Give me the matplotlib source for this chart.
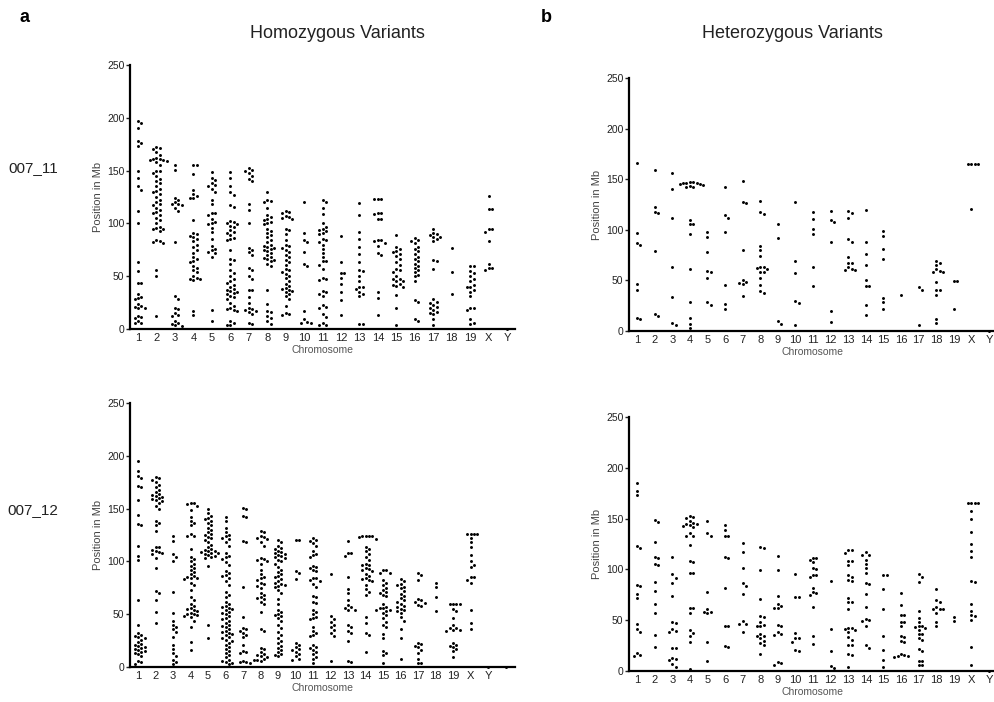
import numpy as np
import matplotlib
matplotlib.use('Agg')
import matplotlib.pyplot as plt

plt.rcParams['font.family'] = ['Liberation Sans', 'DejaVu Sans']

chroms = ['1', '2', '3', '4', '5', '6', '7', '8', '9', '10', '11', '12', '13',
          '14', '15', '16', '17', '18', '19', 'X', 'Y']

# Homozygous variants, sample 007_11 (Mb, one list per chromosome)
hom_11 = [
    [197, 195, 190, 178, 176, 173, 150, 143, 135, 132, 112, 100, 63, 55, 44, 44, 33, 30, 29, 28, 24, 22, 21, 20, 20, 12, 11, 10, 8, 6, 6],
    [172, 171, 170, 168, 165, 162, 161, 161, 160, 160, 159, 158, 155, 150, 150, 148, 145, 142, 140, 138, 135, 133, 131, 130, 128, 125, 122, 120, 118, 117, 115, 113, 111, 110, 108, 105, 103, 100, 97, 96, 95, 95, 93, 84, 83, 82, 81, 56, 50, 12],
    [155, 151, 124, 122, 120, 118, 118, 117, 115, 112, 82, 31, 28, 20, 19, 15, 13, 12, 8, 6, 5, 4, 3],
    [155, 155, 147, 132, 128, 126, 124, 124, 103, 91, 90, 88, 87, 85, 83, 80, 78, 75, 72, 68, 66, 64, 63, 60, 58, 56, 54, 50, 48, 47, 47, 46, 17, 13],
    [149, 143, 141, 138, 136, 135, 133, 130, 122, 118, 110, 110, 108, 104, 101, 100, 99, 96, 92, 85, 79, 76, 75, 73, 72, 68, 18, 8],
    [149, 143, 135, 130, 127, 117, 116, 102, 101, 100, 99, 98, 97, 94, 92, 91, 89, 86, 85, 84, 75, 66, 65, 62, 56, 53, 50, 47, 45, 44, 42, 40, 38, 37, 36, 35, 34, 33, 31, 30, 28, 25, 22, 20, 19, 18, 17, 8, 6, 4, 4],
    [152, 151, 150, 148, 145, 142, 140, 118, 113, 100, 77, 75, 73, 70, 58, 56, 50, 47, 37, 37, 30, 25, 20, 19, 18, 17, 16, 14, 6, 5],
    [130, 122, 121, 120, 115, 108, 106, 104, 103, 101, 100, 99, 95, 93, 91, 89, 87, 84, 82, 80, 79, 78, 77, 76, 75, 74, 72, 70, 68, 67, 66, 65, 64, 62, 60, 37, 24, 17, 16, 12, 10, 8, 5],
    [112, 111, 110, 107, 106, 105, 104, 95, 94, 90, 84, 80, 79, 77, 75, 73, 70, 68, 65, 63, 61, 57, 56, 54, 52, 50, 48, 45, 43, 41, 39, 38, 37, 36, 35, 33, 31, 28, 22, 15, 14, 13],
    [120, 91, 84, 82, 73, 62, 60, 17, 9, 7, 6, 6],
    [122, 120, 115, 109, 100, 97, 95, 94, 93, 91, 90, 85, 84, 82, 80, 76, 72, 68, 64, 64, 61, 57, 48, 47, 46, 36, 35, 33, 31, 23, 21, 20, 14, 11, 6, 4, 4],
    [88, 63, 53, 53, 48, 43, 35, 27, 13],
    [119, 108, 92, 85, 78, 71, 63, 56, 55, 50, 45, 40, 40, 38, 35, 33, 31, 5, 5],
    [123, 123, 123, 110, 110, 109, 104, 104, 84, 84, 83, 81, 79, 72, 70, 35, 29, 13],
    [89, 78, 76, 74, 73, 71, 69, 66, 63, 61, 57, 56, 54, 50, 47, 47, 45, 45, 43, 42, 41, 40, 32, 20, 4],
    [86, 84, 83, 81, 78, 76, 74, 71, 68, 66, 64, 62, 60, 58, 56, 54, 51, 50, 45, 27, 26, 9, 8],
    [95, 91, 90, 89, 87, 87, 85, 83, 65, 64, 57, 28, 26, 25, 23, 21, 20, 18, 16, 15, 14, 9, 4],
    [77, 54, 33],
    [60, 60, 55, 53, 50, 47, 45, 42, 40, 40, 37, 35, 31, 20, 20, 18, 9, 6, 5],
    [126, 114, 114, 95, 95, 92, 83, 62, 58, 58, 56],
    [0],
]

# Homozygous variants, sample 007_12 (last entry is the unlabelled slot after Y)
hom_12 = [
    [195, 186, 181, 179, 171, 170, 158, 144, 135, 134, 115, 105, 101, 63, 40, 32, 30, 29, 28, 27, 26, 24, 22, 21, 20, 19, 18, 17, 16, 15, 14, 13, 12, 10, 6, 5, 3],
    [180, 179, 177, 175, 172, 170, 168, 166, 164, 163, 162, 161, 160, 159, 158, 157, 155, 152, 150, 138, 136, 134, 129, 114, 114, 111, 110, 109, 108, 107, 103, 94, 72, 70, 63, 52, 42],
    [124, 119, 107, 104, 100, 71, 51, 44, 40, 38, 36, 33, 28, 21, 17, 13, 10, 7, 5, 3],
    [155, 155, 154, 152, 149, 142, 138, 136, 134, 126, 124, 124, 112, 104, 102, 100, 98, 96, 94, 92, 90, 88, 86, 85, 84, 84, 83, 80, 78, 73, 66, 63, 60, 58, 56, 55, 54, 53, 51, 50, 50, 49, 48, 47, 44, 38, 24, 16],
    [150, 146, 143, 141, 140, 138, 136, 134, 132, 130, 128, 126, 125, 123, 122, 120, 118, 116, 114, 112, 111, 110, 110, 109, 108, 108, 107, 106, 105, 104, 103, 96, 40, 27],
    [142, 138, 132, 128, 125, 124, 122, 121, 118, 115, 108, 105, 104, 102, 99, 97, 91, 89, 87, 86, 84, 81, 78, 71, 68, 66, 62, 60, 58, 57, 56, 55, 54, 52, 51, 50, 48, 46, 45, 44, 42, 40, 39, 38, 36, 34, 33, 32, 31, 30, 28, 27, 26, 25, 23, 21, 19, 17, 15, 13, 11, 9, 7, 6, 5, 4, 3],
    [151, 150, 143, 142, 119, 118, 76, 47, 37, 36, 34, 32, 30, 28, 21, 15, 14, 13, 6, 5, 5, 4],
    [129, 128, 124, 123, 122, 121, 118, 115, 103, 102, 101, 100, 98, 92, 88, 85, 84, 82, 80, 79, 77, 75, 70, 68, 66, 65, 64, 62, 60, 52, 36, 34, 18, 17, 14, 12, 11, 10, 9, 8, 7, 7, 6],
    [120, 118, 115, 113, 112, 110, 109, 108, 107, 106, 105, 104, 103, 101, 100, 98, 95, 92, 90, 88, 86, 85, 83, 81, 80, 79, 78, 77, 76, 73, 70, 64, 60, 54, 52, 50, 49, 48, 46, 44, 40, 37, 33, 30, 27, 25, 23, 20, 18, 16, 14, 12, 11, 10],
    [120, 120, 91, 89, 83, 23, 21, 19, 17, 16, 14, 12, 10, 8, 7],
    [122, 120, 119, 117, 115, 110, 107, 106, 104, 96, 95, 94, 92, 91, 84, 84, 82, 81, 79, 76, 67, 66, 62, 61, 54, 52, 50, 47, 46, 45, 38, 34, 32, 30, 29, 21, 19, 18, 16, 14, 12, 9, 8, 4],
    [88, 48, 45, 43, 40, 38, 35, 32, 29, 6],
    [119, 108, 108, 105, 85, 74, 70, 63, 59, 57, 56, 54, 54, 40, 38, 34, 32, 25, 6, 5],
    [124, 124, 124, 124, 123, 121, 114, 112, 110, 107, 104, 101, 98, 97, 97, 94, 93, 92, 91, 88, 86, 84, 83, 82, 81, 78, 74, 71, 68, 47, 42, 32, 30, 14],
    [92, 92, 89, 89, 82, 80, 78, 75, 73, 71, 70, 68, 67, 60, 57, 56, 56, 54, 54, 53, 51, 49, 46, 43, 40, 38, 31, 27, 15, 13, 11, 4],
    [83, 81, 79, 78, 76, 75, 72, 69, 67, 65, 63, 62, 60, 58, 57, 55, 54, 53, 51, 47, 44, 36, 27, 8],
    [89, 87, 82, 64, 63, 62, 61, 59, 58, 23, 22, 20, 19, 16, 13, 8, 4, 4],
    [80, 76, 66, 53],
    [60, 60, 60, 60, 55, 53, 46, 40, 37, 37, 35, 35, 34, 23, 21, 20, 19, 17, 15, 9],
    [126, 126, 126, 126, 122, 118, 114, 106, 100, 97, 95, 85, 85, 82, 80, 54, 42, 36],
    [0],
    [0],
]

# Heterozygous variants, sample 007_11
het_11 = [
    [166, 97, 87, 85, 46, 41, 13, 12],
    [159, 123, 118, 117, 79, 17, 15],
    [156, 140, 112, 63, 34, 8, 6],
    [147, 147, 146, 146, 146, 145, 145, 144, 143, 142, 142, 110, 106, 106, 96, 61, 29, 13, 7, 3],
    [98, 93, 78, 59, 58, 52, 29, 26],
    [142, 115, 112, 98, 45, 27, 22],
    [148, 127, 126, 80, 50, 48, 47, 46, 35],
    [128, 118, 116, 84, 80, 74, 63, 63, 62, 61, 58, 58, 52, 45, 40, 38],
    [106, 92, 10, 7],
    [127, 69, 57, 30, 28, 6],
    [118, 111, 101, 96, 63, 44],
    [119, 110, 108, 88, 20, 9],
    [119, 117, 112, 91, 88, 73, 67, 67, 63, 61, 60, 60],
    [120, 88, 76, 65, 50, 44, 44, 26, 16],
    [99, 94, 81, 71, 33, 29, 22],
    [36],
    [43, 41, 6],
    [69, 67, 65, 61, 59, 58, 58, 48, 41, 41, 36, 12, 8],
    [49, 49, 22],
    [165, 165, 165, 165, 121],
    [0],
]

# Heterozygous variants, sample 007_12
het_12 = [
    [185, 177, 173, 123, 121, 85, 84, 76, 72, 46, 41, 38, 18, 16, 15],
    [149, 147, 127, 112, 111, 105, 104, 88, 79, 66, 57, 35, 24],
    [112, 95, 92, 87, 74, 48, 47, 41, 39, 38, 23, 23, 13, 12, 11, 7, 4],
    [153, 152, 151, 148, 146, 145, 145, 144, 143, 142, 136, 133, 133, 124, 108, 107, 96, 96, 62, 62, 57, 40, 37, 34, 29, 2],
    [148, 136, 133, 78, 61, 58, 58, 57, 29, 10],
    [144, 139, 133, 133, 112, 111, 82, 44, 44, 25, 24],
    [126, 117, 101, 87, 84, 76, 49, 46, 46, 38],
    [122, 121, 99, 71, 54, 53, 48, 45, 44, 44, 36, 34, 34, 32, 30, 28, 26, 17],
    [113, 99, 74, 66, 64, 62, 62, 45, 44, 38, 36, 35, 9, 8, 6],
    [95, 73, 73, 37, 32, 32, 29, 21, 20],
    [111, 111, 109, 107, 101, 100, 94, 94, 93, 82, 78, 77, 75, 63, 34, 27],
    [89, 41, 20, 5, 3],
    [119, 119, 116, 108, 108, 104, 94, 93, 90, 89, 72, 68, 68, 61, 42, 42, 41, 40, 38, 33, 31, 26, 26, 17, 16, 4],
    [117, 114, 114, 109, 105, 101, 96, 87, 86, 76, 63, 51, 50, 49, 44, 26, 23],
    [94, 94, 81, 61, 34, 21, 11, 4],
    [77, 65, 55, 55, 48, 48, 44, 34, 33, 30, 29, 17, 16, 15, 15, 14],
    [95, 93, 88, 59, 52, 48, 44, 44, 43, 42, 40, 36, 36, 32, 31, 22, 20, 10, 10, 6, 6],
    [81, 70, 68, 63, 61, 61, 61, 57, 48, 44],
    [53, 49],
    [165, 165, 165, 165, 157, 150, 137, 125, 118, 112, 89, 88, 66, 59, 55, 54, 50, 24, 6],
    [0],
]


def swarm(values, px_per_mb, px_per_slot, d=3.4):
    # simple beeswarm: put each point at the first free horizontal slot
    placed = []
    offs = []
    for v in sorted(values, reverse=True):
        y = v * px_per_mb
        k = 0
        while True:
            step = (k + 1) // 2 * (1 if k % 2 else -1)
            x = step * d
            if all((x - px) ** 2 + (y - py) ** 2 >= d * d for px, py in placed):
                break
            k += 1
        placed.append((x, y))
        offs.append((x / px_per_slot, v))
    return offs


W, H = 995, 702
fig = plt.figure(figsize=(W / 100, H / 100), dpi=100)

# (data, labels, left px, right px, top px, bottom px, xlim)
panels = [
    (hom_11, chroms, 130, 515, 65, 329, (0.566, 21.43)),
    (het_11, chroms, 629, 995, 78, 331, (0.545, 21.34)),
    (hom_12, chroms + [''], 130, 515, 403, 667, (0.543, 22.54)),
    (het_12, chroms, 629, 995, 417, 671, (0.545, 21.34)),
]

for data, labels, x0, x1, y0, y1, xl in panels:
    ax = fig.add_axes([x0 / W, 1 - y1 / H, (x1 - x0) / W, (y1 - y0) / H])
    px_per_mb = (y1 - y0) / 250
    px_per_slot = (x1 - x0) / (xl[1] - xl[0])
    for i, vals in enumerate(data):
        pts = swarm(vals, px_per_mb, px_per_slot)
        xs = [i + 1 + p[0] for p in pts]
        ys = [p[1] for p in pts]
        ax.scatter(xs, ys, s=4.5, color='black', linewidths=0, clip_on=False, zorder=3)
    ax.set_xlim(*xl)
    ax.set_ylim(0, 250)
    ax.set_xticks(range(1, len(labels) + 1))
    ax.set_xticklabels(labels, fontsize=8, color='#222222')
    ax.set_yticks([0, 50, 100, 150, 200, 250])
    ax.tick_params(axis='x', length=0, pad=3)
    ax.tick_params(axis='y', length=3, width=1, pad=1, labelsize=7.5, colors='#222222')
    for s in ['top', 'right']:
        ax.spines[s].set_visible(False)
    for s in ['left', 'bottom']:
        ax.spines[s].set_linewidth(1.6)
    ax.set_ylabel('Position in Mb', fontsize=8, color='#444444', labelpad=3)
    ax.set_xlabel('Chromosome', fontsize=7.5, color='#555555', labelpad=1)

fig.text(20 / W, 1 - 18 / H, 'a', fontsize=13, fontweight='bold', ha='left', va='center')
fig.text(541 / W, 1 - 18 / H, 'b', fontsize=13, fontweight='bold', ha='left', va='center')
fig.text(337 / W, 1 - 33 / H, 'Homozygous Variants', fontsize=13, color='#222222', ha='center', va='center')
fig.text(792 / W, 1 - 33 / H, 'Heterozygous Variants', fontsize=13, color='#222222', ha='center', va='center')
fig.text(33 / W, 1 - 168 / H, '007_11', fontsize=11, color='#222222', ha='center', va='center')
fig.text(33 / W, 1 - 510 / H, '007_12', fontsize=11, color='#222222', ha='center', va='center')

fig.savefig('out.png', dpi=100)
